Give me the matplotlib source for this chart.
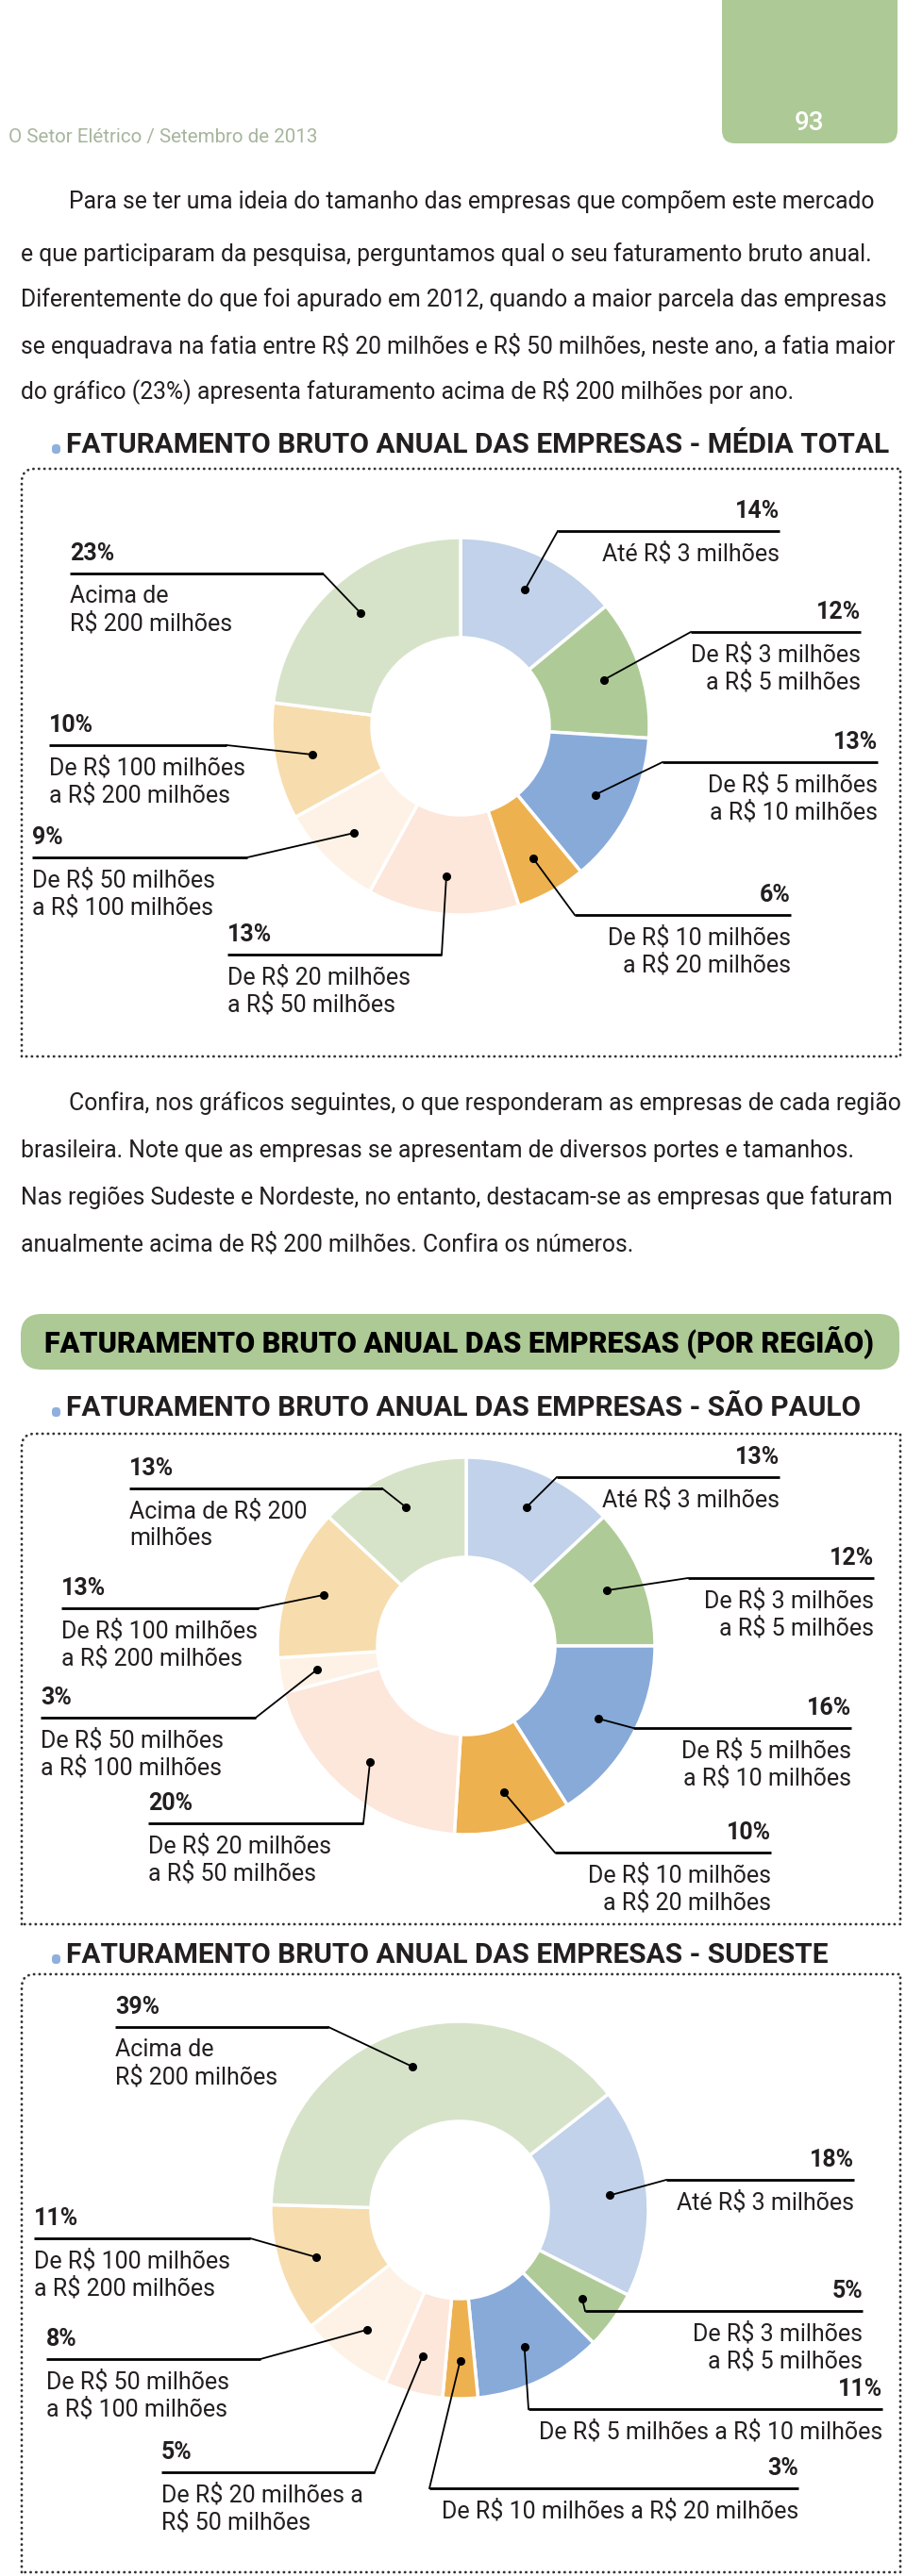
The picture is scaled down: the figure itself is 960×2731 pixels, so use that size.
import matplotlib
matplotlib.use('Agg')
import matplotlib.pyplot as plt
from matplotlib.patches import FancyBboxPatch, PathPatch
from matplotlib.path import Path
import numpy as np

plt.rcParams['font.family'] = ['Roboto', 'DejaVu Sans']

W, H = 960, 2731

# faixas de faturamento (mesma ordem nos tres graficos)
faixas = ['Até R$ 3 milhões', 'De R$ 3 a R$ 5 milhões', 'De R$ 5 a R$ 10 milhões',
          'De R$ 10 a R$ 20 milhões', 'De R$ 20 a R$ 50 milhões', 'De R$ 50 a R$ 100 milhões',
          'De R$ 100 a R$ 200 milhões', 'Acima de R$ 200 milhões']
media_total = [14, 12, 13, 6, 13, 9, 10, 23]
sao_paulo = [13, 12, 16, 10, 20, 3, 13, 13]
sudeste = [18, 5, 11, 3, 5, 8, 11, 39]

desc_media = ['Até R$ 3 milhões', 'De R$ 3 milhões\na R$ 5 milhões',
              'De R$ 5 milhões\na R$ 10 milhões', 'De R$ 10 milhões\na R$ 20 milhões',
              'De R$ 20 milhões\na R$ 50 milhões', 'De R$ 50 milhões\na R$ 100 milhões',
              'De R$ 100 milhões\na R$ 200 milhões', 'Acima de\nR$ 200 milhões']
desc_sp = desc_media[:7] + ['Acima de R$ 200\nmilhões']
desc_sudeste = ['Até R$ 3 milhões', 'De R$ 3 milhões\na R$ 5 milhões',
                'De R$ 5 milhões a R$ 10 milhões', 'De R$ 10 milhões a R$ 20 milhões',
                'De R$ 20 milhões a\nR$ 50 milhões', 'De R$ 50 milhões\na R$ 100 milhões',
                'De R$ 100 milhões\na R$ 200 milhões', 'Acima de\nR$ 200 milhões']

cores = ['#c1d2ea', '#aecb97', '#87aad9', '#eeb14f', '#fde6da', '#fdf2e5', '#f7dcad', '#d7e3c9']
verde = '#adc995'
texto = '#231f20'

paragrafo1 = ['Para se ter uma ideia do tamanho das empresas que compõem este mercado',
              'e que participaram da pesquisa, perguntamos qual o seu faturamento bruto anual.',
              'Diferentemente do que foi apurado em 2012, quando a maior parcela das empresas',
              'se enquadrava na fatia entre R$ 20 milhões e R$ 50 milhões, neste ano, a fatia maior',
              'do gráfico (23%) apresenta faturamento acima de R$ 200 milhões por ano.']
paragrafo2 = ['Confira, nos gráficos seguintes, o que responderam as empresas de cada região',
              'brasileira. Note que as empresas se apresentam de diversos portes e tamanhos.',
              'Nas regiões Sudeste e Nordeste, no entanto, destacam-se as empresas que faturam',
              'anualmente acima de R$ 200 milhões. Confira os números.']

# layout dos rotulos: (x esquerda, x direita, y da linha, lado) em pixels a partir do topo
rot_media = [(591, 826, 563, 'R'), (732, 912, 670, 'R'), (702, 930, 808, 'R'), (609, 838, 970, 'R'),
             (241, 468, 1012, 'L'), (34, 262, 909, 'L'), (52, 240, 790, 'L'), (74, 342, 608, 'L')]
rot_sp = [(590, 826, 1566, 'R'), (729, 926, 1673, 'R'), (671, 902, 1832, 'R'), (588, 817, 1964, 'R'),
          (157, 385, 1933, 'L'), (43, 271, 1821, 'L'), (65, 274, 1705, 'L'), (137, 405, 1578, 'L')]
rot_sudeste = [(706, 905, 2311, 'R'), (620, 914, 2450, 'R'), (560, 935, 2554, 'R'), (455, 846, 2638, 'R'),
               (171, 397, 2621, 'L'), (49, 276, 2501, 'L'), (36, 265, 2373, 'L'), (122, 348, 2149, 'L')]

R_OUT, R_IN = 200, 94


def Y(y):
    return H - y


fig = plt.figure(figsize=(W / 100, H / 100), dpi=100)
ax = fig.add_axes([0, 0, 1, 1])


def escreve(x, y, s, **kw):
    kw.setdefault('color', texto)
    kw.setdefault('va', 'center')
    ax.text(x, Y(y), s, parse_math=False, **kw)


def caixa(x0, y0, x1, y1, r=14):
    verts = [(x0, Y(y1)), (x0, Y(y0 + r)), (x0, Y(y0)), (x0 + r, Y(y0)),
             (x1, Y(y0)), (x1, Y(y1)), (x0, Y(y1))]
    codes = [Path.MOVETO, Path.LINETO, Path.CURVE3, Path.CURVE3,
             Path.LINETO, Path.LINETO, Path.LINETO]
    ax.add_patch(PathPatch(Path(verts, codes), fill=False, lw=2, edgecolor='#333333',
                           linestyle=(0, (0.1, 2.0)), capstyle='round'))


def titulo(txt, y):
    ax.add_patch(FancyBboxPatch((55, Y(y + 9)), 9, 10, boxstyle='round,pad=0,rounding_size=4',
                                color='#8fb0dc', lw=0))
    escreve(70, y, txt, fontsize=21.5, fontweight='bold', ha='left')


def donut(valores, descricoes, rotulos, centro, inicio):
    cx, cy = centro
    wedges, _ = ax.pie(valores, colors=cores, center=(cx, Y(cy)), radius=R_OUT,
                       startangle=inicio, counterclock=False,
                       wedgeprops=dict(width=R_OUT - R_IN, edgecolor='white', linewidth=2.5))
    for w, v, desc, (x0, x1, yl, lado) in zip(wedges, valores, descricoes, rotulos):
        mid = np.deg2rad((w.theta1 + w.theta2) / 2)
        px = cx + 0.8 * R_OUT * np.cos(mid)
        py = Y(cy) + 0.8 * R_OUT * np.sin(mid)
        xin = x0 if lado == 'R' else x1
        xa = x1 if lado == 'R' else x0
        ha = 'right' if lado == 'R' else 'left'
        ax.plot([x0, x1], [Y(yl), Y(yl)], color='black', lw=2, solid_capstyle='butt')
        ax.plot([xin, px], [Y(yl), py], color='black', lw=1.3)
        ax.plot(px, py, 'o', color='black', ms=5.5)
        escreve(xa, yl - 21, f'{v}%', ha=ha, fontsize=18, fontweight='bold')
        for i, linha in enumerate(desc.split('\n')):
            escreve(xa, yl + 24 + 29 * i, linha, ha=ha, fontsize=18)


# cabecalho
ax.add_patch(FancyBboxPatch((765, Y(152)), 186, 200, boxstyle='round,pad=0,rounding_size=14',
                            color=verde, lw=0))
escreve(858, 130, '93', color='white', fontsize=20, fontweight='medium', ha='center')
escreve(9, 145, 'O Setor Elétrico / Setembro de 2013', color='#a6b59c', fontsize=14.8, ha='left')

# texto corrido
for i, (linha, y) in enumerate(zip(paragrafo1, [214, 270, 318, 366, 414])):
    escreve(73 if i == 0 else 22, y, linha, fontsize=17.8, ha='left')
for i, (linha, y) in enumerate(zip(paragrafo2, [1170, 1220, 1270, 1319])):
    escreve(73 if i == 0 else 22, y, linha, fontsize=17.8, ha='left')

# grafico 1
titulo('FATURAMENTO BRUTO ANUAL DAS EMPRESAS - MÉDIA TOTAL', 472)
caixa(23, 497, 954, 1120)
donut(media_total, desc_media, rot_media, (488, 770), 90)

# faixa verde
ax.add_patch(FancyBboxPatch((22, Y(1452)), 931, 59, boxstyle='round,pad=0,rounding_size=22',
                            color=verde, lw=0))
escreve(486, 1423, 'FATURAMENTO BRUTO ANUAL DAS EMPRESAS (POR REGIÃO)', fontsize=22,
        fontweight='black', color='black', ha='center')

# Sao Paulo
titulo('FATURAMENTO BRUTO ANUAL DAS EMPRESAS - SÃO PAULO', 1493)
caixa(23, 1520, 954, 2040)
donut(sao_paulo, desc_sp, rot_sp, (494, 1745), 90)

# Sudeste
titulo('FATURAMENTO BRUTO ANUAL DAS EMPRESAS - SUDESTE', 2073)
caixa(23, 2093, 954, 2727)
donut(sudeste, desc_sudeste, rot_sudeste, (487, 2343), 38)

ax.set_xlim(0, W)
ax.set_ylim(0, H)
ax.set_aspect('equal')
ax.axis('off')
fig.savefig('out.png', dpi=100)
